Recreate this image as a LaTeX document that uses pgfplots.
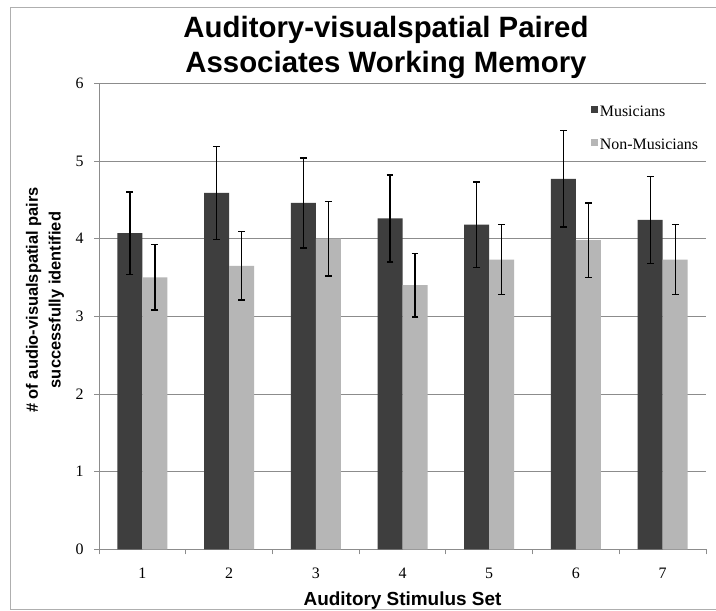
\documentclass[border=0pt]{standalone}
\usepackage{pgfplots}
\pgfplotsset{compat=1.18}
\usepackage{fontspec}
\setmainfont{Liberation Serif}
\newfontfamily\headfont{Liberation Sans}

\definecolor{barDark}{RGB}{62,62,62}
\definecolor{barLight}{RGB}{182,182,182}
\definecolor{gridGray}{RGB}{140,140,140}
\definecolor{frameGray}{RGB}{175,175,175}

% mean and error (one standard error) per stimulus set
\pgfplotstableread{
x  y     e
1  4.07  0.53
2  4.59  0.60
3  4.46  0.58
4  4.26  0.56
5  4.18  0.55
6  4.77  0.62
7  4.24  0.56
}\musicians
\pgfplotstableread{
x  y     e
1  3.50  0.42
2  3.65  0.44
3  4.00  0.48
4  3.40  0.41
5  3.73  0.45
6  3.98  0.48
7  3.73  0.45
}\nonmusicians

\begin{document}
\begin{tikzpicture}[x=1bp,y=1bp]
\useasboundingbox (0,0) rectangle (716,611);
\fill[white] (0,0) rectangle (716,611);
\draw[frameGray, line width=0.8bp] (10,2) rectangle (740,604);
\begin{axis}[
  at={(99bp,61.7bp)}, anchor=south west,
  scale only axis, width=607bp, height=466bp,
  ymin=0, ymax=6, xmin=0.5, xmax=7.5,
  ybar=0pt, bar width=25bp,
  axis lines=left, axis line style={-, gridGray, line width=0.9bp},
  ytick={0,...,6}, ymajorgrids, grid style={gridGray, line width=0.9bp},
  xtick={0.5,1.5,...,7.5}, xticklabels={},
  extra x ticks={1,...,7}, extra x tick labels={1,2,3,4,5,6,7},
  extra x tick style={major tick length=0pt, grid=none},
  tick style={gridGray, line width=0.9bp},
  tick align=outside, major tick length=5bp,
  /pgf/number format/assume math mode=true,
  yticklabel style={font=\fontsize{16}{18}\selectfont, xshift=-7bp},
  xticklabel style={font=\fontsize{16}{18}\selectfont, yshift=-15bp},
  xlabel={Auditory Stimulus Set},
  xlabel style={at={(axis description cs:0.5,0)}, anchor=base, yshift=-56.7bp,
    font=\headfont\bfseries\fontsize{19}{22}\selectfont},
  ylabel={\# of audio-visualspatial pairs\\successfully identified},
  ylabel style={at={(axis description cs:-0.089,0.535)}, anchor=center, align=center,
    font=\headfont\bfseries\fontsize{16.5}{23}\selectfont},
  legend style={at={(rel axis cs:0.81,0.957)}, anchor=north west, draw=none, fill=none,
    font=\fontsize{16}{18}\selectfont, row sep=17bp, inner sep=0pt,
    nodes={inner sep=2bp}},
  legend cell align=left,
  legend image code/.code={\fill[#1] (-3bp,-1.5bp) rectangle (4bp,5.5bp);},
]
\addplot[fill=barDark, draw=none,
  error bars/.cd, y dir=both, y explicit,
  error bar style={black, line width=1.3bp},
  error mark options={rotate=90, mark size=3.4bp, line width=1.3bp, black}]
  table[x=x, y=y, y error=e] {\musicians};
\addlegendentry{Musicians}
\addplot[fill=barLight, draw=none,
  error bars/.cd, y dir=both, y explicit,
  error bar style={black, line width=1.3bp},
  error mark options={rotate=90, mark size=3.4bp, line width=1.3bp, black}]
  table[x=x, y=y, y error=e] {\nonmusicians};
\addlegendentry{Non-Musicians}
\end{axis}
\node[anchor=base, font=\headfont\bfseries\fontsize{29.5}{34}\selectfont] at (386,573) {Auditory-visualspatial Paired};
\node[anchor=base, font=\headfont\bfseries\fontsize{29.5}{34}\selectfont] at (386,538) {Associates Working Memory};
\end{tikzpicture}
\end{document}
